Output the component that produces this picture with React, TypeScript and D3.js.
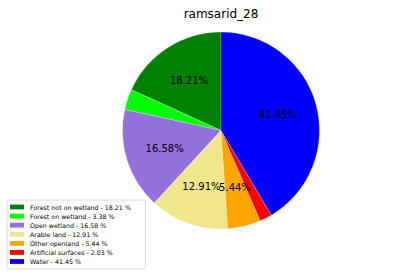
import React from "react";
import * as d3 from "d3";

const categories = [
  "Forest not on wetland",
  "Forest on wetland",
  "Open wetland",
  "Arable land",
  "Other openland",
  "Artificial surfaces",
  "Water",
];
const values = [18.21, 3.38, 16.58, 12.91, 5.44, 2.03, 41.45];
const colors = ["#008000", "#00ff00", "#9370db", "#f0e68c", "#ffa500", "#ff0000", "#0000ff"];
const title = "ramsarid_28";

const W = 395;
const H = 276;

export default function App() {
  const cx = 221;
  const cy = 130.5;
  const r = 98.5;
  const pie = d3
    .pie<number>()
    .sort(null)
    .startAngle(0)
    .endAngle(-2 * Math.PI)
    .value((d) => d);
  const arcs = pie(values);
  const arc = d3.arc<d3.PieArcDatum<number>>().innerRadius(0).outerRadius(r);
  const labelArc = d3.arc<d3.PieArcDatum<number>>().innerRadius(r * 0.6).outerRadius(r * 0.6);
  const font = "DejaVu Sans, sans-serif";

  const legX = 7, legY = 200, legW = 138.5, legH = 69;
  const rowY = d3.scaleLinear().domain([0, categories.length - 1]).range([207, 261.5]);

  return (
    <svg
      width={W}
      height={H}
      style={{ position: "absolute", left: 0, top: 0, background: "#fff" }}
      fontFamily={font}
    >
      <rect width={W} height={H} fill="#fff" />
      <text x={cx} y={18} textAnchor="middle" fontSize={12} fill="#000">
        {title}
      </text>
      <g transform={`translate(${cx},${cy})`}>
        {arcs.map((a, i) => (
          <path key={i} d={arc(a) || ""} fill={colors[i]} stroke="#fff" strokeWidth={0.4} strokeOpacity={0.6} />
        ))}
        {arcs.map((a, i) => {
          if (values[i] < 4) return null;
          const [x, y] = labelArc.centroid(a);
          return (
            <text key={"l" + i} x={x} y={y} textAnchor="middle" dominantBaseline="central" fontSize={10} fill="#000">
              {values[i].toFixed(2) + "%"}
            </text>
          );
        })}
      </g>
      <g>
        <rect
          x={legX}
          y={legY}
          width={legW}
          height={legH}
          rx={2}
          fill="#fff"
          fillOpacity={0.8}
          stroke="#d0d0d0"
          strokeWidth={0.8}
        />
        {categories.map((c, i) => (
          <g key={c}>
            <rect x={10} y={rowY(i) - 2.4} width={14} height={4.8} fill={colors[i]} />
            <text x={30} y={rowY(i)} dominantBaseline="central" fontSize={6.3} fill="#000">
              {`${c} - ${values[i].toFixed(2)} %`}
            </text>
          </g>
        ))}
      </g>
    </svg>
  );
}
